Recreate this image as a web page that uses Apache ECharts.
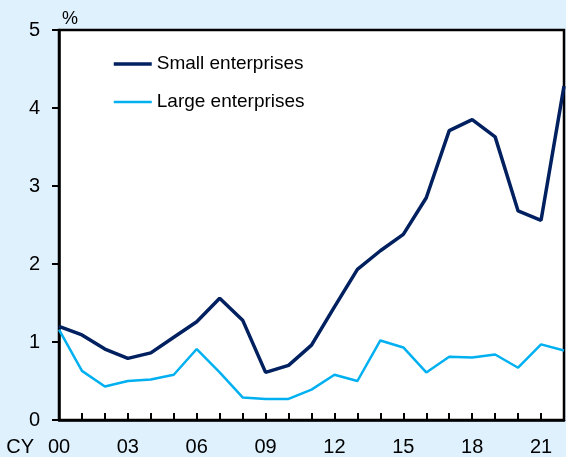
<!DOCTYPE html>
<html>
<head>
<meta charset="utf-8">
<script src="https://cdn.jsdelivr.net/npm/echarts@6/dist/echarts.min.js"></script>
<style>
html,body{margin:0;padding:0;background:#dff1fd;}
#chart{width:566px;height:457px;}
</style>
</head>
<body>
<div id="chart"></div>
<script>
var years = [2000,2001,2002,2003,2004,2005,2006,2007,2008,2009,2010,2011,2012,2013,2014,2015,2016,2017,2018,2019,2020,2021,2022];
var smallEnterprises = [1.20,1.09,0.91,0.79,0.86,1.06,1.26,1.56,1.28,0.61,0.70,0.96,1.45,1.93,2.17,2.38,2.85,3.71,3.85,3.63,2.68,2.56,4.28];
var largeEnterprises = [1.16,0.63,0.43,0.50,0.52,0.58,0.91,0.61,0.29,0.27,0.27,0.39,0.58,0.50,1.02,0.93,0.61,0.81,0.80,0.84,0.67,0.97,0.89];
var xTickLabels = {2000:'00',2003:'03',2006:'06',2009:'09',2012:'12',2015:'15',2018:'18',2021:'21'};
var yTicks = [0,1,2,3,4,5];
var seriesNames = ['Small enterprises','Large enterprises'];

function pairs(v){ return years.map(function(y,i){ return [y, v[i]]; }); }

var chart = echarts.init(document.getElementById('chart'));
chart.setOption({
  backgroundColor: '#dff1fd',
  animation: false,
  textStyle: {fontFamily: 'Liberation Sans, Arial, sans-serif'},
  grid: {left: 59, right: 2, top: 30, bottom: 37, show: true, backgroundColor: '#ffffff', borderColor: '#000000', borderWidth: 2.5, containLabel: false, outerBoundsMode: 'none'},
  legend: {
    orient: 'vertical', left: 112, top: 54, padding: 0, itemWidth: 38, itemHeight: 20, itemGap: 18,
    itemStyle: {opacity: 0},
    lineStyle: {width: 'inherit'},
    textStyle: {fontSize: 19, color: '#000', lineHeight: 20},
    data: seriesNames
  },
  xAxis: {
    type: 'value', min: years[0], max: years[years.length-1], interval: 1,
    name: 'CY', nameLocation: 'start', nameGap: 25,
    nameTextStyle: {fontSize: 20, color: '#000', align: 'right', verticalAlign: 'top', padding: [17,0,0,0]},
    axisLine: {show: true, lineStyle: {color: '#000', width: 2.5}},
    axisTick: {show: true, inside: true, length: 7, lineStyle: {color: '#000', width: 2}},
    splitLine: {show: false},
    axisLabel: {fontSize: 20, color: '#000', margin: 17, showMinLabel: true, showMaxLabel: true,
      formatter: function(v){ return xTickLabels[v] || ''; }}
  },
  yAxis: {
    type: 'value', min: yTicks[0], max: yTicks[yTicks.length-1], interval: 1,
    name: '%', nameLocation: 'end', nameGap: 2,
    nameTextStyle: {fontSize: 18, color: '#000', align: 'left', padding: [0,0,0,3]},
    axisLine: {show: true, lineStyle: {color: '#000', width: 2.5}},
    axisTick: {show: true, inside: false, length: 7, lineStyle: {color: '#000', width: 2}},
    splitLine: {show: false},
    axisLabel: {fontSize: 20, color: '#000', margin: 19}
  },
  series: [
    {name: seriesNames[0], type: 'line', data: pairs(smallEnterprises), symbol: 'none', lineStyle: {color: '#002060', width: 3.5}, itemStyle: {color: '#002060'}, z: 3},
    {name: seriesNames[1], type: 'line', data: pairs(largeEnterprises), symbol: 'none', lineStyle: {color: '#00b0f0', width: 2.5}, itemStyle: {color: '#00b0f0'}, z: 2}
  ]
});
</script>
</body>
</html>
